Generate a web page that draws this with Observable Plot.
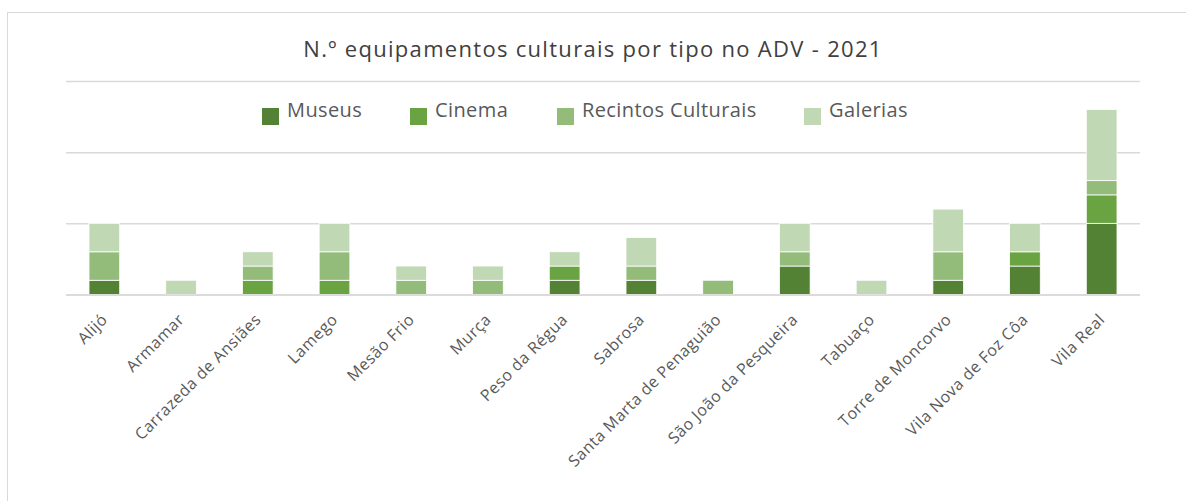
<!DOCTYPE html>
<html>
<head>
<meta charset="utf-8">
<script src="https://cdn.jsdelivr.net/npm/d3@7"></script>
<script src="https://cdn.jsdelivr.net/npm/@observablehq/plot@0.6"></script>
<style>
  html, body { margin: 0; padding: 0; background: #fff; overflow: hidden; }
  #wrap { position: relative; width: 1186px; height: 501px; font-family: "Open Sans", sans-serif; }
  #frame { position: absolute; left: 7px; top: 12px; width: 1200px; height: 520px; border: 1.5px solid #d9d9d9; box-sizing: border-box; }
  #title { position: absolute; left: 0; width: 1186px; top: 33px; text-align: center; font-size: 22px; letter-spacing: 1.3px; color: #404040; }
  #legend { position: absolute; top: 0; left: 0; width: 1186px; font-size: 20px; letter-spacing: 0.4px; color: #595959; }
  .sw { position: absolute; top: 108px; width: 17px; height: 17px; }
  .lt { position: absolute; top: 96px; line-height: 27px; white-space: nowrap; }
  #chart { position: absolute; left: 0; top: 0; }
  #chart svg text { letter-spacing: 0.5px; }
</style>
</head>
<body>
<div id="wrap">
  <div id="frame"></div>
  <div id="chart"></div>
  <div id="title">N.º equipamentos culturais por tipo no ADV - 2021</div>
  <div id="legend"></div>
</div>
<script>
const municipios = ["Alijó","Armamar","Carrazeda de Ansiães","Lamego","Mesão Frio","Murça","Peso da Régua","Sabrosa","Santa Marta de Penaguião","São João da Pesqueira","Tabuaço","Torre de Moncorvo","Vila Nova de Foz Côa","Vila Real"];
const museus   = [1,0,0,0,0,0,1,1,0,2,0,1,2,5];
const cinema   = [0,0,1,1,0,0,1,0,0,0,0,0,1,2];
const recintos = [2,0,1,2,1,1,0,1,1,1,0,2,0,1];
const galerias = [2,1,1,2,1,1,1,2,0,2,1,3,2,5];
const tipos = ["Museus","Cinema","Recintos Culturais","Galerias"];
const cores = ["#548235","#6aa342","#93bc7a","#c0d8b4"];
const yTicks = [0,5,10,15];

const series = [museus, cinema, recintos, galerias];
const data = [];
municipios.forEach((m, i) => {
  tipos.forEach((t, j) => data.push({municipio: m, tipo: t, valor: series[j][i]}));
});

const chart = Plot.plot({
  width: 1186,
  height: 501,
  marginTop: 81,
  marginBottom: 206.5,
  marginLeft: 66,
  marginRight: 46,
  style: {fontFamily: "'Open Sans', sans-serif", fontSize: "16px", color: "#595959", background: "transparent"},
  x: {domain: municipios, paddingInner: 0.6, paddingOuter: 0.3, round: false, label: null},
  y: {domain: [0, 15], label: null},
  color: {domain: tipos, range: cores},
  marks: [
    Plot.ruleY(yTicks, {stroke: "#d9d9d9", strokeWidth: 1.5}),
    Plot.barY(data, Plot.stackY({x: "municipio", y: "valor", fill: "tipo", order: tipos, stroke: "white", strokeWidth: 0.8})),
    Plot.ruleY([0], {stroke: "#d9d9d9", strokeWidth: 1.5}),
    Plot.axisX({tickSize: 0, tickRotate: -45, tickPadding: 22, label: null, fill: "#595959"}),
    Plot.axisY({ticks: [], label: null})
  ]
});
document.getElementById("chart").appendChild(chart);

const legend = document.getElementById("legend");
const lx = [262, 410, 557, 804];
tipos.forEach((t, j) => {
  const sw = document.createElement("div");
  sw.className = "sw";
  sw.style.left = lx[j] + "px";
  sw.style.background = cores[j];
  legend.appendChild(sw);
  const tx = document.createElement("div");
  tx.className = "lt";
  tx.style.left = (lx[j] + 25) + "px";
  tx.textContent = t;
  legend.appendChild(tx);
});
</script>
</body>
</html>
